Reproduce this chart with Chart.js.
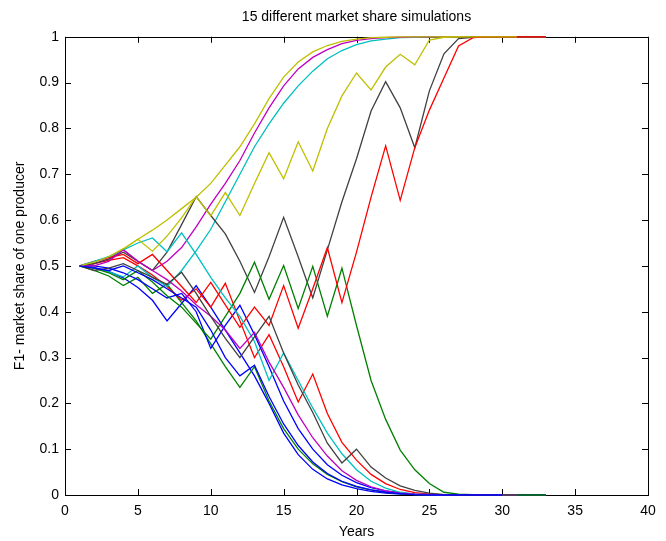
<!DOCTYPE html>
<html>
<head>
<meta charset="utf-8">
<script src="https://cdn.jsdelivr.net/npm/chart.js@4.4.1/dist/chart.umd.min.js"></script>
<style>
  html, body { margin: 0; padding: 0; background: #fff; }
</style>
</head>
<body>
<canvas id="simChart" width="666" height="541"></canvas>
<script>
// ---------------- data ----------------
var years = [1,2,3,4,5,6,7,8,9,10,11,12,13,14,15,16,17,18,19,20,21,22,23,24,25,26,27,28,29,30,31,32,33];
var xTicks = [0,5,10,15,20,25,30,35,40];
var yTicks = [0,0.1,0.2,0.3,0.4,0.5,0.6,0.7,0.8,0.9,1];

var sim1 = [0.5,0.497,0.488,0.474,0.453,0.425,0.38,0.418,0.457,0.41,0.36,0.31,0.26,0.2,0.135,0.088,0.056,0.035,0.022,0.014,0.008,0.004,0.002,0.001,0,0,0,0,0,0,0,0,0];
var sim2 = [0.5,0.49,0.478,0.457,0.475,0.44,0.46,0.42,0.38,0.33,0.28,0.235,0.28,0.205,0.145,0.1,0.068,0.045,0.029,0.018,0.011,0.006,0.003,0.001,0,0,0,0,0,0,0,0,0];
var sim3 = [0.5,0.505,0.512,0.518,0.5,0.48,0.455,0.425,0.45,0.41,0.462,0.38,0.3,0.35,0.28,0.203,0.264,0.178,0.115,0.076,0.045,0.025,0.012,0.005,0.002,0.001,0,0,0,0,0,0,0];
var sim4 = [0.5,0.495,0.487,0.476,0.5,0.475,0.455,0.49,0.533,0.58,0.64,0.7,0.76,0.81,0.855,0.893,0.925,0.952,0.97,0.983,0.991,0.995,0.998,0.999,1,1,1,1,1,1,1,1,1];
var sim5 = [0.5,0.505,0.515,0.535,0.51,0.49,0.51,0.54,0.585,0.635,0.68,0.73,0.79,0.845,0.893,0.93,0.955,0.972,0.985,0.992,0.996,0.998,0.999,1,1,1,1,1,1,1,1,1,1];
var sim6 = [0.5,0.508,0.52,0.537,0.558,0.578,0.6,0.625,0.65,0.68,0.72,0.76,0.81,0.865,0.912,0.945,0.967,0.981,0.99,0.995,0.998,0.999,1,1,1,1,1,1,1,1,1,1,1];
var sim7 = [0.5,0.505,0.515,0.53,0.51,0.49,0.53,0.59,0.651,0.61,0.57,0.51,0.442,0.52,0.606,0.52,0.43,0.535,0.64,0.734,0.838,0.902,0.845,0.758,0.882,0.963,0.996,0.999,1,1,1,1,1];
var sim8 = [0.5,0.5,0.495,0.485,0.47,0.45,0.43,0.44,0.4,0.32,0.37,0.414,0.35,0.28,0.205,0.145,0.1,0.066,0.043,0.027,0.016,0.009,0.005,0.002,0.001,0,0,0,0,0,0,0,0];
var sim9 = [0.5,0.495,0.485,0.47,0.49,0.465,0.435,0.41,0.375,0.34,0.39,0.44,0.508,0.427,0.501,0.407,0.499,0.39,0.495,0.37,0.25,0.165,0.098,0.055,0.025,0.006,0.002,0.001,0,0,0,0,0];
var sim10 = [0.5,0.51,0.518,0.525,0.505,0.525,0.49,0.455,0.42,0.464,0.415,0.366,0.41,0.37,0.457,0.364,0.45,0.54,0.42,0.53,0.65,0.762,0.643,0.758,0.84,0.91,0.98,0.998,1,1,1,1,1];
var sim11 = [0.5,0.51,0.52,0.535,0.55,0.561,0.531,0.572,0.525,0.475,0.43,0.39,0.335,0.25,0.31,0.25,0.19,0.135,0.09,0.055,0.03,0.015,0.006,0.002,0.001,0,0,0,0,0,0];
var sim12 = [0.5,0.5,0.51,0.535,0.51,0.49,0.47,0.445,0.415,0.39,0.36,0.32,0.355,0.29,0.235,0.175,0.125,0.085,0.053,0.032,0.018,0.009,0.004,0.002,0.001,0,0,0,0,0,0];
var sim13 = [0.5,0.508,0.52,0.537,0.558,0.532,0.565,0.605,0.651,0.609,0.66,0.61,0.68,0.747,0.69,0.771,0.707,0.8,0.871,0.921,0.884,0.934,0.962,0.939,0.993,0.999,1,1,1,1,1];
var sim14 = [0.5,0.49,0.495,0.505,0.49,0.475,0.46,0.486,0.44,0.39,0.342,0.3,0.345,0.39,0.31,0.24,0.18,0.113,0.07,0.1,0.061,0.037,0.02,0.01,0.004,0.001,0,0,0,0,0];
var sim15 = [0.5,0.495,0.49,0.5,0.485,0.47,0.45,0.43,0.41,0.36,0.3,0.26,0.283,0.215,0.155,0.108,0.072,0.047,0.03,0.019,0.011,0.006,0.003,0.001,0,0,0,0,0,0];

var sims = [sim1,sim2,sim3,sim4,sim5,sim6,sim7,sim8,sim9,sim10,sim11,sim12,sim13,sim14,sim15];
// matlab colour order b g r c m y k
var colours = ["#0000ff","#008000","#ff0000","#00bfbf","#bf00bf","#bfbf00","#404040"];

var datasets = sims.map(function(s, i) {
  return {
    data: s.map(function(v, j) { return {x: years[j], y: v}; }),
    borderColor: colours[i % colours.length],
    borderWidth: 1.3,
    pointRadius: 0,
    tension: 0,
    fill: false,
    clip: 3,
    order: sims.length - i   // last run on top, like matlab
  };
});

// box + inward ticks on all four sides
var matlabBox = {
  id: 'matlabBox',
  beforeDatasetsDraw: function(chart) {
    var ctx = chart.ctx, a = chart.chartArea;
    var x = chart.scales.x, y = chart.scales.y;
    ctx.save();
    ctx.strokeStyle = "#000";
    ctx.lineWidth = 1;
    ctx.beginPath();
    xTicks.forEach(function(v) {
      var px = Math.round(x.getPixelForValue(v)) + 0.5;
      ctx.moveTo(px, a.bottom); ctx.lineTo(px, a.bottom - 6);
      ctx.moveTo(px, a.top); ctx.lineTo(px, a.top + 6);
    });
    yTicks.forEach(function(v) {
      var py = Math.round(y.getPixelForValue(v)) + 0.5;
      ctx.moveTo(a.left, py); ctx.lineTo(a.left + 6, py);
      ctx.moveTo(a.right, py); ctx.lineTo(a.right - 6, py);
    });
    ctx.stroke();
    ctx.strokeRect(Math.round(a.left) + 0.5, Math.round(a.top) + 0.5, Math.round(a.width), Math.round(a.height));
    ctx.restore();
  }
};

var font = "'Liberation Sans', Arial, Helvetica, sans-serif";

new Chart(document.getElementById("simChart"), {
  type: 'line',
  data: { datasets: datasets },
  plugins: [matlabBox],
  options: {
    responsive: false,
    animation: false,
    devicePixelRatio: 1,
    layout: { padding: { left: 0, right: 18, top: 0, bottom: 0 } },
    plugins: {
      legend: { display: false },
      tooltip: { enabled: false },
      title: {
        display: true,
        fullSize: false,
        text: '15 different market share simulations',
        color: '#000',
        font: { family: font, size: 14, weight: 'normal' },
        padding: { top: 9, bottom: 11 }
      }
    },
    scales: {
      x: {
        type: 'linear',
        min: 0, max: 40,
        grid: { display: false, drawTicks: false },
        border: { display: false },
        ticks: { stepSize: 5, padding: 8, color: '#000', font: { family: font, size: 14 } },
        title: { display: true, text: 'Years', color: '#000', font: { family: font, size: 14 }, padding: { top: 0, bottom: 0 } },
        afterFit: function(scale) { scale.height = 46; }
      },
      y: {
        min: 0, max: 1,
        grid: { display: false, drawTicks: false },
        border: { display: false },
        ticks: {
          stepSize: 0.1, padding: 6, color: '#000', font: { family: font, size: 14 },
          callback: function(v) { return String(Math.round(v * 10) / 10); }
        },
        title: { display: true, text: 'F1- market share of one producer', color: '#000', font: { family: font, size: 14 }, padding: { top: 12, bottom: 0 } },
        afterFit: function(scale) { scale.width = 65; }
      }
    }
  }
});
</script>
</body>
</html>
